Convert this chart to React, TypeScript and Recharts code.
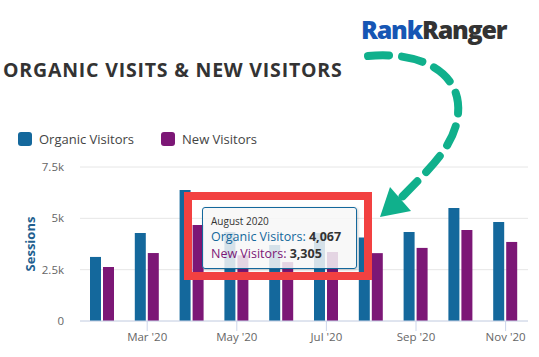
import { Bar, BarChart, CartesianGrid, Tooltip, XAxis, YAxis } from 'recharts';

const months = ["Feb '20", "Mar '20", "Apr '20", "May '20", "Jun '20", "Jul '20", "Aug '20", "Sep '20", "Oct '20", "Nov '20"];
const monthTitles = ['February 2020', 'March 2020', 'April 2020', 'May 2020', 'June 2020', 'July 2020', 'August 2020', 'September 2020', 'October 2020', 'November 2020'];
const organicVisitors = [3120, 4290, 6380, 4340, 3700, 4290, 4067, 4340, 5500, 4820];
const newVisitors = [2630, 3310, 4680, 3200, 2870, 3360, 3305, 3560, 4430, 3850];
const yTicks = [0, 2500, 5000, 7500];
const yTickLabels = ['0', '2.5k', '5k', '7.5k'];
const shownMonths = [1, 3, 5, 7, 9];

const data = months.map((m, i) => ({
  month: m,
  title: monthTitles[i],
  organic: organicVisitors[i],
  newv: newVisitors[i],
}));

const FONT = '"Open Sans", sans-serif';
const BLUE = '#14689c';
const PURPLE = '#7c1776';

function MonthTick(props: any) {
  const { x, y, index, payload } = props;
  if (!shownMonths.includes(index)) return null;
  return (
    <g>
      <line x1={x} x2={x} y1={y - 8} y2={y + 2} stroke="#ccd6eb" />
      <text x={x} y={y + 12} textAnchor="middle" fontSize={11.5} fill="#666" fontFamily={FONT}>
        {payload.value}
      </text>
    </g>
  );
}

function TipBox({ payload }: any) {
  if (!payload || !payload.length) return null;
  const row = payload[0].payload;
  return (
    <div
      style={{
        width: 155,
        height: 62,
        boxSizing: 'border-box',
        background: 'rgba(247,247,247,0.85)',
        border: `1px solid ${BLUE}`,
        borderRadius: 3,
        padding: '6px 8px 0 8px',
        fontFamily: FONT,
        whiteSpace: 'nowrap',
        boxShadow: '1px 1px 3px rgba(0,0,0,0.2)',
      }}
    >
      <div style={{ fontSize: 10, color: '#333', lineHeight: '14px', height: 14 }}>{row.title}</div>
      <div style={{ fontSize: 12.5, lineHeight: '17px', height: 17, color: BLUE }}>
        Organic Visitors: <b style={{ color: '#333' }}>{row.organic.toLocaleString('en-US')}</b>
      </div>
      <div style={{ fontSize: 12.5, lineHeight: '17px', height: 17, color: PURPLE }}>
        New Visitors: <b style={{ color: '#333' }}>{row.newv.toLocaleString('en-US')}</b>
      </div>
    </div>
  );
}

export default function App() {
  return (
    <div style={{ position: 'relative', width: 539, height: 357, background: '#fff', overflow: 'hidden' }}>
      <style>{'body{margin:0}'}</style>
      <div
        style={{
          position: 'absolute',
          left: 361,
          top: 13,
          fontFamily: FONT,
          fontWeight: 800,
          fontSize: 25,
          letterSpacing: -1.2,
          lineHeight: '32px',
          whiteSpace: 'nowrap',
        }}
      >
        <span style={{ color: '#1656b4' }}>Rank</span>
        <span style={{ color: '#333' }}>Ranger</span>
      </div>
      <div
        style={{
          position: 'absolute',
          left: 3,
          top: 58,
          fontFamily: FONT,
          fontWeight: 700,
          fontSize: 19.5,
          letterSpacing: 0.8,
          color: '#333',
          lineHeight: '24px',
          whiteSpace: 'nowrap',
        }}
      >
        ORGANIC VISITS &amp; NEW VISITORS
      </div>
      <div style={{ position: 'absolute', left: 18, top: 130, display: 'flex', alignItems: 'center', fontFamily: FONT, fontSize: 13, color: '#444' }}>
        <span style={{ width: 14, height: 14, borderRadius: 3, background: BLUE, display: 'inline-block', marginRight: 7 }} />
        <span>Organic Visitors</span>
        <span style={{ width: 14, height: 14, borderRadius: 3, background: PURPLE, display: 'inline-block', marginLeft: 27, marginRight: 7 }} />
        <span>New Visitors</span>
      </div>
      <div
        style={{
          position: 'absolute',
          left: 30,
          top: 244,
          transform: 'translate(-50%, -50%) rotate(-90deg)',
          fontFamily: FONT,
          fontWeight: 700,
          fontSize: 13,
          color: '#1f5f8f',
        }}
      >
        Sessions
      </div>
      <div style={{ position: 'absolute', left: 0, top: 0 }}>
        <BarChart width={539} height={357} data={data} margin={{ top: 167, right: 11, bottom: 6, left: 0 }} barSize={11} barGap={2}>
          <CartesianGrid vertical={false} stroke="#e6e6e6" />
          <XAxis
            dataKey="month"
            height={30}
            interval={0}
            stroke="#ccd6eb"
            tickLine={false}
            tick={<MonthTick />}
          />
          <YAxis
            width={80}
            domain={[0, 7500]}
            ticks={yTicks}
            axisLine={false}
            tickLine={false}
            tickSize={0}
            tickMargin={16}
            tickFormatter={(v: number) => yTickLabels[yTicks.indexOf(v)]}
            tick={{ fontSize: 11.5, fill: '#666', fontFamily: FONT }}
          />
          <Tooltip
            active
            defaultIndex={6}
            cursor={false}
            position={{ x: 202, y: 207 }}
            content={<TipBox />}
            isAnimationActive={false}
            wrapperStyle={{ outline: 'none' }}
          />
          <Bar dataKey="organic" fill={BLUE} isAnimationActive={false} />
          <Bar dataKey="newv" fill={PURPLE} isAnimationActive={false} />
        </BarChart>
      </div>
      <svg width={539} height={357} style={{ position: 'absolute', left: 0, top: 0, zIndex: 2000, pointerEvents: 'none' }}>
        <rect x={188} y={196} width={180} height={80} fill="none" stroke="#f24141" strokeWidth={8} />
        <path
          d="M368,56 C420,51 462,72 458,114 C455,146 430,168 400,199"
          fill="none"
          stroke="#10b08c"
          strokeWidth={8}
          strokeLinecap="round"
          strokeDasharray="21 13"
        />
        <polygon points="380,217 390,187 411,211" fill="#10b08c" />
      </svg>
    </div>
  );
}
